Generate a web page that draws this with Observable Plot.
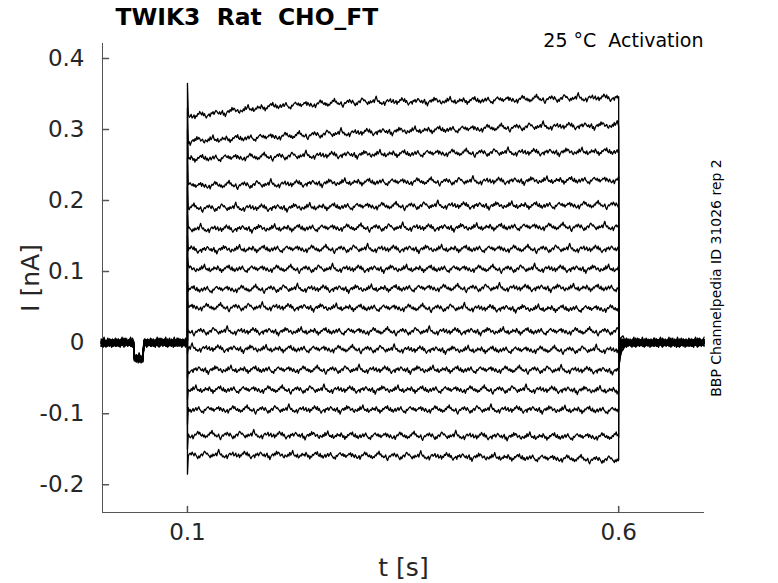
<!DOCTYPE html>
<html><head><meta charset="utf-8">
<script src="https://cdn.jsdelivr.net/npm/d3@7"></script>
<script src="https://cdn.jsdelivr.net/npm/@observablehq/plot@0.6"></script>
<style>body{margin:0;background:#fff}</style>
</head><body><div id="chart"></div>
<script>
const title = "TWIK3  Rat  CHO_FT";
const subtitle = "25 \u00B0C  Activation";
const sideNote = "BBP Channelpedia ID 31026 rep 2";
const xLabel = "t [s]";
const yLabel = "I [nA]";
const xTicks = [0.1, 0.6];
const yTicks = [-0.2, -0.1, 0, 0.1, 0.2, 0.3, 0.4];
const xDomain = [0.0015, 0.6995];
const yDomain = [-0.239, 0.421];

// step epochs (s)
const stepOn = 0.1;
const stepOff = 0.6;
const prepulseTimes = [0.038, 0.049];
const prepulseLevel = -0.022;

// steady-state current of each sweep (nA) read at these times
const levelTimes = [0.1, 0.2, 0.3, 0.4, 0.5, 0.6];
const levels = [
  [0.318, 0.333, 0.339, 0.340, 0.343, 0.345],
  [0.284, 0.290, 0.296, 0.300, 0.304, 0.306],
  [0.259, 0.262, 0.265, 0.267, 0.268, 0.269],
  [0.221, 0.223, 0.226, 0.227, 0.228, 0.229],
  [0.190, 0.190, 0.192, 0.193, 0.193, 0.194],
  [0.160, 0.161, 0.162, 0.162, 0.163, 0.163],
  [0.131, 0.132, 0.132, 0.132, 0.132, 0.132],
  [0.104, 0.104, 0.104, 0.104, 0.104, 0.104],
  [0.075, 0.076, 0.076, 0.077, 0.077, 0.077],
  [0.050, 0.050, 0.049, 0.049, 0.048, 0.048],
  [0.016, 0.016, 0.016, 0.016, 0.016, 0.016],
  [-0.008, -0.009, -0.009, -0.010, -0.010, -0.010],
  [-0.038, -0.038, -0.038, -0.038, -0.038, -0.039],
  [-0.066, -0.066, -0.066, -0.066, -0.066, -0.067],
  [-0.094, -0.094, -0.094, -0.094, -0.094, -0.095],
  [-0.130, -0.130, -0.131, -0.131, -0.132, -0.132],
  [-0.158, -0.158, -0.159, -0.160, -0.162, -0.165]
];
// capacitive peak at step onset (nA)
const onSpike = [0.365, 0.33, 0.30, 0.26, 0.22, 0.18, 0.15, 0.12, 0.085, 0.06, 0.02, -0.015, -0.05, -0.08, -0.115, -0.15, -0.185];
// tail right after step offset (nA)
const offTail = [-0.040, -0.035, -0.030, -0.025, -0.020, -0.016, -0.012, -0.009, -0.006, -0.004, -0.002, 0, 0.002, 0.004, 0.006, 0.008, 0.010];
const tailTimes = [0.6, 0.6015, 0.603, 0.605, 0.607, 0.609, 0.611];
const tailShape = [1, 0.6, 0.35, 0.18, 0.08, 0.03, 0];

// recording noise (units of noiseUnit nA)
const noiseUnit = 0.0013;
const noise = [0,2,1,3,-1,2,0,-2,1,-1,-3,-2,0,-4,-1,1,0,2,4,1,3,0,-1,1,-2,0,-3,-1,-2,1,0,3,2,5,1,2,-1,0,-2,-1,1,-3,-5,-2,0,-1,1,2,0,3,1,-1,2,0,-2,-4,-1,-3,0,1,-1,2,4,3,1,2,0,-1,-3,0,-2,1,-1,0,2,-1,3,6,2,0,1,-2,-1,-3,-2,0,-4,-1,1,2,0,1,3,-1,0,2,-2,-1,1,-3,0,-1,2,1,4,2,0,3,-1,1,-2,-4,-2,-1,0,-3,1,0,2,-1,1,3,2,0,-1,1,-2,0,2,-3,-1,-5,-2,0,1,-1,2,0,4,1,3,2,-1,0,1,-2,-3,0,-1,-2,1,-1,3,0,2,5,1,-1,0,-2,1,-3,-2,0,-1,2,0,1,-1,3,1,-2,0,-4,-1,-2,1,0,2,3,1,4,0,-1,2,-2,0,-3,-1,1,-2,0,2,-1,1,3,0,-1,-3,-2,-4,0,-1,1,2,3,1,0,2,-1,1,-2,0];
const dt = 0.0011;

const rows = [];
levels.forEach((lv, k) => {
  const lvl = d3.scaleLinear().domain(levelTimes).range(lv);
  let i = 0;
  const nz = () => noise[(i++ + 37 * k) % noise.length] * noiseUnit;
  for (let j = 0; j * dt < stepOn - 1e-9; j++) {
    const t = j * dt;
    const base = (t >= prepulseTimes[0] - 1e-9 && t < prepulseTimes[1] - 1e-9) ? prepulseLevel : 0;
    rows.push({k, t, v: base + nz()});
  }
  rows.push({k, t: stepOn, v: nz()});
  rows.push({k, t: stepOn, v: onSpike[k]});
  for (let j = 0; stepOn + 0.001 + j * dt < stepOff; j++) {
    const t = stepOn + 0.001 + j * dt;
    rows.push({k, t, v: lvl(t) + nz()});
  }
  rows.push({k, t: stepOff, v: lv[lv.length - 1] + nz()});
  tailTimes.forEach((t, m) => rows.push({k, t, v: offTail[k] * tailShape[m] + nz()}));
  for (let j = 1; tailTimes[tailTimes.length - 1] + j * dt <= xDomain[1]; j++) {
    rows.push({k, t: tailTimes[tailTimes.length - 1] + j * dt, v: nz()});
  }
});

const axisColor = "#555";
const textColor = "#262626";
const tickShape = {draw(ctx, l) { ctx.moveTo(0, 0); ctx.lineTo(0, -l); }};

const chart = Plot.plot({
  width: 778,
  height: 583,
  marginLeft: 102,
  marginRight: 74,
  marginTop: 43,
  marginBottom: 71,
  style: {fontFamily: "DejaVu Sans", color: textColor, background: "#fff"},
  x: {domain: xDomain},
  y: {domain: yDomain},
  marks: [
    Plot.ruleX([xDomain[0]], {stroke: axisColor, strokeWidth: 1}),
    Plot.ruleY([yDomain[0]], {stroke: axisColor, strokeWidth: 1}),
    Plot.vector(xTicks, {x: d => d, frameAnchor: "bottom", length: 6, rotate: 0, anchor: "start", shape: tickShape, stroke: axisColor}),
    Plot.vector(yTicks, {y: d => d, frameAnchor: "left", length: 6, rotate: 90, anchor: "start", shape: tickShape, stroke: axisColor}),
    Plot.axisX({ticks: xTicks, tickSize: 0, tickPadding: 11, fontSize: 23, label: null, tickFormat: d => String(d)}),
    Plot.axisY({ticks: yTicks, tickSize: 0, tickPadding: 18, fontSize: 23, label: null, tickFormat: d => String(d)}),
    Plot.line(rows, {x: "t", y: "v", z: "k", stroke: "#000", strokeWidth: 1.3}),
    Plot.text([title], {text: d => d, frameAnchor: "top-left", dx: 13, dy: -26, textAnchor: "start", lineAnchor: "middle", fontSize: 23.4, fontWeight: "bold", fill: "#000"}),
    Plot.text([subtitle], {text: d => d, frameAnchor: "top-right", dx: -1, dy: -3, textAnchor: "end", lineAnchor: "middle", fontSize: 19, fill: "#000"}),
    Plot.text([sideNote], {text: d => d, frameAnchor: "right", dx: 12, dy: 0, rotate: -90, textAnchor: "middle", lineAnchor: "middle", fontSize: 14, fill: "#000"}),
    Plot.text([yLabel], {text: d => d, frameAnchor: "left", dx: -72, rotate: -90, textAnchor: "middle", lineAnchor: "middle", fontSize: 25, fill: textColor}),
    Plot.text([xLabel], {text: d => d, frameAnchor: "bottom", dy: 55, textAnchor: "middle", lineAnchor: "middle", fontSize: 25, fill: textColor})
  ]
});
document.getElementById("chart").appendChild(chart);
</script>
</body></html>
